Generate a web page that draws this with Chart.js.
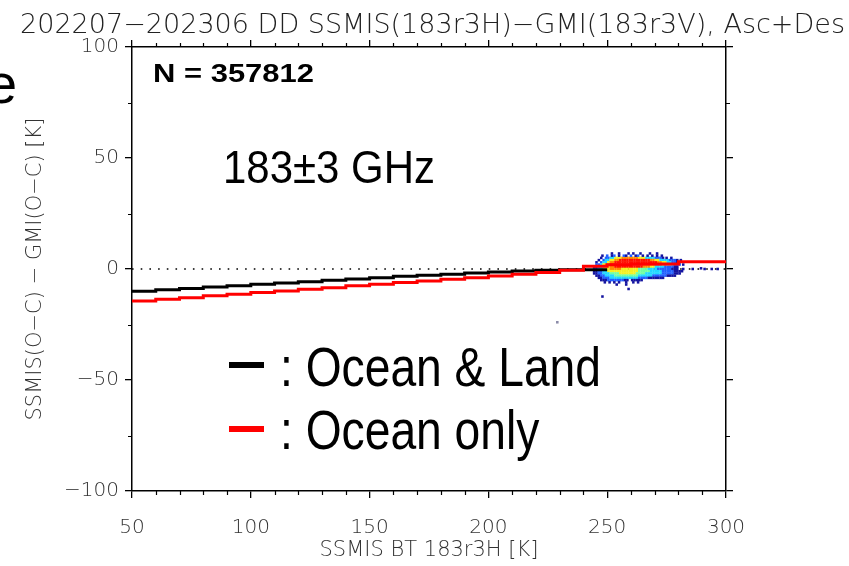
<!DOCTYPE html>
<html>
<head>
<meta charset="utf-8">
<script src="https://cdn.jsdelivr.net/npm/chart.js@4.4.0/dist/chart.umd.min.js"></script>
<style>
html, body { margin: 0; padding: 0; background: #fff; overflow: hidden; }
canvas { display: block; }
</style>
</head>
<body>
<canvas id="c" width="849" height="566"></canvas>
<script>
// 10 K bins of SSMIS BT, mean difference per bin
const binStarts = [50, 60, 70, 80, 90, 100, 110, 120, 130, 140, 150, 160, 170, 180, 190,
                   200, 210, 220, 230, 240, 250, 260, 270, 280, 290];
const oceanLand = [-10.6, -10.0, -9.4, -8.8, -8.1, -7.5, -6.9, -6.3, -5.7, -5.1, -4.5, -3.9, -3.3, -2.8, -2.4,
                   -1.8, -1.3, -0.9, -0.6, -0.3];
const oceanOnly = [-15.1, -14.4, -13.6, -12.9, -12.1, -11.4, -10.6, -9.9, -9.1, -8.4, -7.6, -6.9, -6.1, -5.4, -4.6,
                   -3.9, -3.1, -2.4, -1.6, -0.6, 1.2, 1.9, 2.2, 2.3, 3.3];

const xMin = 50, xMax = 300, xMajor = 50, xMinor = 10;
const yMin = -100, yMax = 100, yMajor = 50, yMinor = 25;

// density of the scatter: [diff row, BT from, BT to, colour level]
const densityRuns = [
  [5, 247, 247, 1], [5, 249, 250, 2], [5, 251, 252, 3], [5, 253, 255, 5], [5, 256, 262, 6], [5, 263, 265, 5],
  [5, 266, 269, 3], [5, 270, 272, 2], [5, 273, 273, 1],
  [4, 246, 246, 1], [4, 248, 248, 2], [4, 249, 250, 3], [4, 251, 252, 5], [4, 253, 254, 6], [4, 255, 267, 7],
  [4, 268, 269, 6], [4, 270, 271, 5], [4, 272, 275, 3], [4, 276, 278, 2], [4, 279, 279, 1],
  [3, 245, 245, 1], [3, 247, 247, 2], [3, 248, 249, 3], [3, 250, 250, 5], [3, 251, 252, 6], [3, 253, 270, 7],
  [3, 271, 272, 6], [3, 273, 274, 5], [3, 275, 276, 3], [3, 277, 278, 2], [3, 279, 280, 1],
  [2, 245, 246, 2], [2, 247, 247, 3], [2, 248, 248, 5], [2, 249, 250, 6], [2, 251, 272, 7], [2, 273, 274, 6],
  [2, 275, 276, 5], [2, 277, 277, 3], [2, 278, 280, 2],
  [1, 244, 245, 1], [1, 246, 246, 2], [1, 247, 248, 3], [1, 249, 250, 5], [1, 251, 252, 6], [1, 253, 264, 7],
  [1, 265, 267, 6], [1, 268, 269, 5], [1, 270, 273, 3], [1, 274, 277, 2], [1, 278, 279, 1],
  [0, 244, 245, 2], [0, 246, 247, 3], [0, 248, 250, 5], [0, 251, 255, 6], [0, 256, 262, 5], [0, 263, 266, 4],
  [0, 267, 270, 3], [0, 271, 276, 2], [0, 277, 279, 1],
  [-1, 244, 245, 1], [-1, 246, 247, 2], [-1, 248, 249, 3], [-1, 250, 262, 5], [-1, 263, 267, 4], [-1, 268, 272, 3],
  [-1, 273, 277, 2], [-1, 278, 281, 1],
  [-2, 244, 245, 1], [-2, 246, 247, 2], [-2, 248, 250, 3], [-2, 251, 254, 4], [-2, 255, 261, 5], [-2, 262, 265, 4],
  [-2, 266, 272, 3], [-2, 273, 277, 2], [-2, 278, 280, 1],
  [-3, 245, 246, 1], [-3, 247, 248, 2], [-3, 249, 252, 3], [-3, 253, 262, 4], [-3, 263, 268, 3], [-3, 269, 274, 2],
  [-3, 275, 278, 1],
  [-4, 246, 247, 1], [-4, 248, 250, 2], [-4, 251, 262, 3], [-4, 263, 266, 2], [-4, 267, 273, 1],
  [-5, 247, 249, 1], [-5, 250, 256, 2], [-5, 257, 258, 1], [-5, 260, 264, 1]
];
// single scattered points: [BT, diff, colour level]
const densityDots = [
  [252, 7, 1], [255, 7, 1], [259, 7, 1], [261, 7, 1], [264, 7, 1], [268, 7, 1], [271, 7, 1],
  [248, 6, 1], [250, 6, 2], [252, 6, 1], [253, 6, 2], [255, 6, 1], [257, 6, 2], [258, 6, 1], [260, 6, 2],
  [262, 6, 1], [263, 6, 2], [265, 6, 1], [267, 6, 1], [269, 6, 1], [271, 6, 1], [273, 6, 1],
  [275, 5, 1], [277, 5, 1], [281, 4, 1], [282, 2, 1],
  [249, -6, 1], [251, -6, 1], [253, -6, 1], [255, -6, 1], [258, -6, 1], [261, -6, 1], [263, -6, 1],
  [254, -7, 1], [258, -7, 1],
  [248, -12.4, 1], [259, -9, 1], [229, -24, 0],
  [282, 0, 1], [286, 0, 1], [289.5, 0.3, 1], [291, 0, 1], [294, 0, 1], [296.5, 0, 1]
];
const densityColors = ['#8a8aa8', '#1414a0', '#2060ff', '#20d8ff', '#70ffa0', '#f4f020', '#ff8c00', '#ff1000'];

function stepPoints(starts, values, end) {
  const pts = values.map((v, i) => ({ x: starts[i], y: v }));
  pts.push({ x: end, y: values[values.length - 1] });
  return pts;
}

const densityPoints = [];
densityRuns.forEach(([v, k0, k1, lvl]) => {
  for (let k = k0; k <= k1; k++) densityPoints.push({ x: k + 0.5, y: v, lvl: lvl });
});
densityDots.forEach(([k, v, lvl]) => densityPoints.push({ x: k, y: v, lvl: lvl }));

const thinFont = 'DejaVu Sans';
const tickFont = { family: thinFont, size: 20, weight: 200 };
const minusLabel = v => String(v).replace('-', '\u2212');

const gridOpts = { display: true, drawOnChartArea: false, drawTicks: true, tickLength: 7, color: '#000', lineWidth: 1.3 };
const borderOpts = { display: true, color: '#000', width: 1.5 };

// minor tick marks on all four sides
const minorTicks = {
  id: 'minorTicks',
  afterDraw(chart) {
    const { ctx, chartArea: a, scales: { x, y } } = chart;
    ctx.save();
    ctx.strokeStyle = '#000';
    ctx.lineWidth = 1.2;
    ctx.beginPath();
    for (let v = xMin + xMinor; v < xMax; v += xMinor) {
      if (v % xMajor === 0) continue;
      const px = Math.round(x.getPixelForValue(v)) + 0.5;
      ctx.moveTo(px, a.bottom); ctx.lineTo(px, a.bottom + 4);
      ctx.moveTo(px, a.top); ctx.lineTo(px, a.top - 4);
    }
    for (let v = yMin + yMinor; v < yMax; v += yMinor) {
      if (v % yMajor === 0) continue;
      const py = Math.round(y.getPixelForValue(v)) + 0.5;
      ctx.moveTo(a.left, py); ctx.lineTo(a.left - 4, py);
      ctx.moveTo(a.right, py); ctx.lineTo(a.right + 4, py);
    }
    ctx.stroke();
    ctx.restore();
  }
};

function fitText(ctx, text, x, yBase, width) {
  const w = ctx.measureText(text).width;
  ctx.save();
  ctx.translate(x, yBase);
  ctx.scale(width / w, 1);
  ctx.fillText(text, 0, 0);
  ctx.restore();
  return width / w;
}

const annotations = {
  id: 'annotations',
  afterDraw(chart) {
    const ctx = chart.ctx;
    ctx.save();
    ctx.textBaseline = 'alphabetic';
    ctx.textAlign = 'left';

    ctx.fillStyle = '#222';
    ctx.font = '200 27px "DejaVu Sans"';
    fitText(ctx, '202207\u2212202306 DD SSMIS(183r3H)\u2212GMI(183r3V), Asc+Des', 20, 33, 825);

    ctx.fillStyle = '#000';
    ctx.font = '56px "Liberation Sans", Arial, sans-serif';
    ctx.fillText('e', -14, 103);

    ctx.font = 'bold 25px "Liberation Sans", Arial, sans-serif';
    fitText(ctx, 'N = 357812', 153, 82, 161);

    ctx.font = '46px "Liberation Sans Narrow", "Liberation Sans", sans-serif';
    fitText(ctx, '183\u00b13 GHz', 223, 183, 212);

    const ds = chart.data.datasets;
    ctx.fillStyle = ds[1].borderColor;
    ctx.fillRect(229, 362, 35, 6);
    ctx.fillStyle = ds[3].borderColor;
    ctx.fillRect(229, 426, 35, 6);

    ctx.fillStyle = '#000';
    ctx.font = '56px "Liberation Sans Narrow", "Liberation Sans", sans-serif';
    const s = fitText(ctx, ': Ocean & Land', 280, 386, 321);
    ctx.save();
    ctx.translate(280, 449);
    ctx.scale(s, 1);
    ctx.fillText(': Ocean only', 0, 0);
    ctx.restore();

    ctx.restore();
  }
};

new Chart(document.getElementById('c'), {
  type: 'scatter',
  data: {
    datasets: [
      {
        label: 'zero',
        data: [{ x: xMin, y: 0 }, { x: xMax, y: 0 }],
        showLine: true,
        borderColor: '#000',
        borderWidth: 1.6,
        borderDash: [1.6, 7.1],
        pointRadius: 0,
        order: 4
      },
      {
        label: 'Ocean & Land',
        data: stepPoints(binStarts, oceanLand, 250),
        showLine: true,
        stepped: 'after',
        borderColor: '#000000',
        borderWidth: 3,
        pointRadius: 0,
        order: 1
      },
      {
        label: 'density',
        data: densityPoints,
        pointStyle: 'rect',
        pointRadius: 1.8,
        borderWidth: 0,
        backgroundColor: densityPoints.map(p => densityColors[p.lvl]),
        order: 2
      },
      {
        label: 'Ocean only',
        data: stepPoints(binStarts, oceanOnly, 300),
        showLine: true,
        stepped: 'after',
        borderColor: '#ff0000',
        borderWidth: 3,
        pointRadius: 0,
        order: 0
      }
    ]
  },
  options: {
    responsive: false,
    animation: false,
    events: [],
    layout: { padding: { left: 0, top: 40, right: 116, bottom: 0 } },
    plugins: {
      legend: { display: false },
      tooltip: { enabled: false },
      title: { display: false }
    },
    scales: {
      x: {
        type: 'linear', position: 'bottom', min: xMin, max: xMax,
        ticks: { stepSize: xMajor, padding: 18, color: '#333', font: tickFont, maxRotation: 0, autoSkip: false,
                 callback: minusLabel },
        grid: gridOpts,
        border: borderOpts,
        title: { display: true, text: 'SSMIS BT 183r3H [K]', color: '#333',
                 font: { family: thinFont, size: 21, weight: 200 }, padding: { top: 0, bottom: 3 } },
        afterFit(s) { s.height = 75; }
      },
      x2: {
        type: 'linear', position: 'top', min: xMin, max: xMax,
        ticks: { stepSize: xMajor, display: false },
        grid: gridOpts,
        border: borderOpts,
        afterFit(s) { s.height = 7; }
      },
      y: {
        type: 'linear', position: 'left', min: yMin, max: yMax,
        ticks: { stepSize: yMajor, padding: 6, color: '#333', font: tickFont, callback: minusLabel },
        grid: gridOpts,
        border: borderOpts,
        title: { display: true, text: 'SSMIS(O\u2212C) \u2212 GMI(O\u2212C) [K]', color: '#333',
                 font: { family: thinFont, size: 21, weight: 200 }, padding: { top: 23, bottom: 0 } },
        afterFit(s) { s.width = 132; }
      },
      y2: {
        type: 'linear', position: 'right', min: yMin, max: yMax,
        ticks: { stepSize: yMajor, display: false },
        grid: gridOpts,
        border: borderOpts,
        afterFit(s) { s.width = 7; }
      }
    }
  },
  plugins: [minorTicks, annotations]
});
</script>
</body>
</html>
